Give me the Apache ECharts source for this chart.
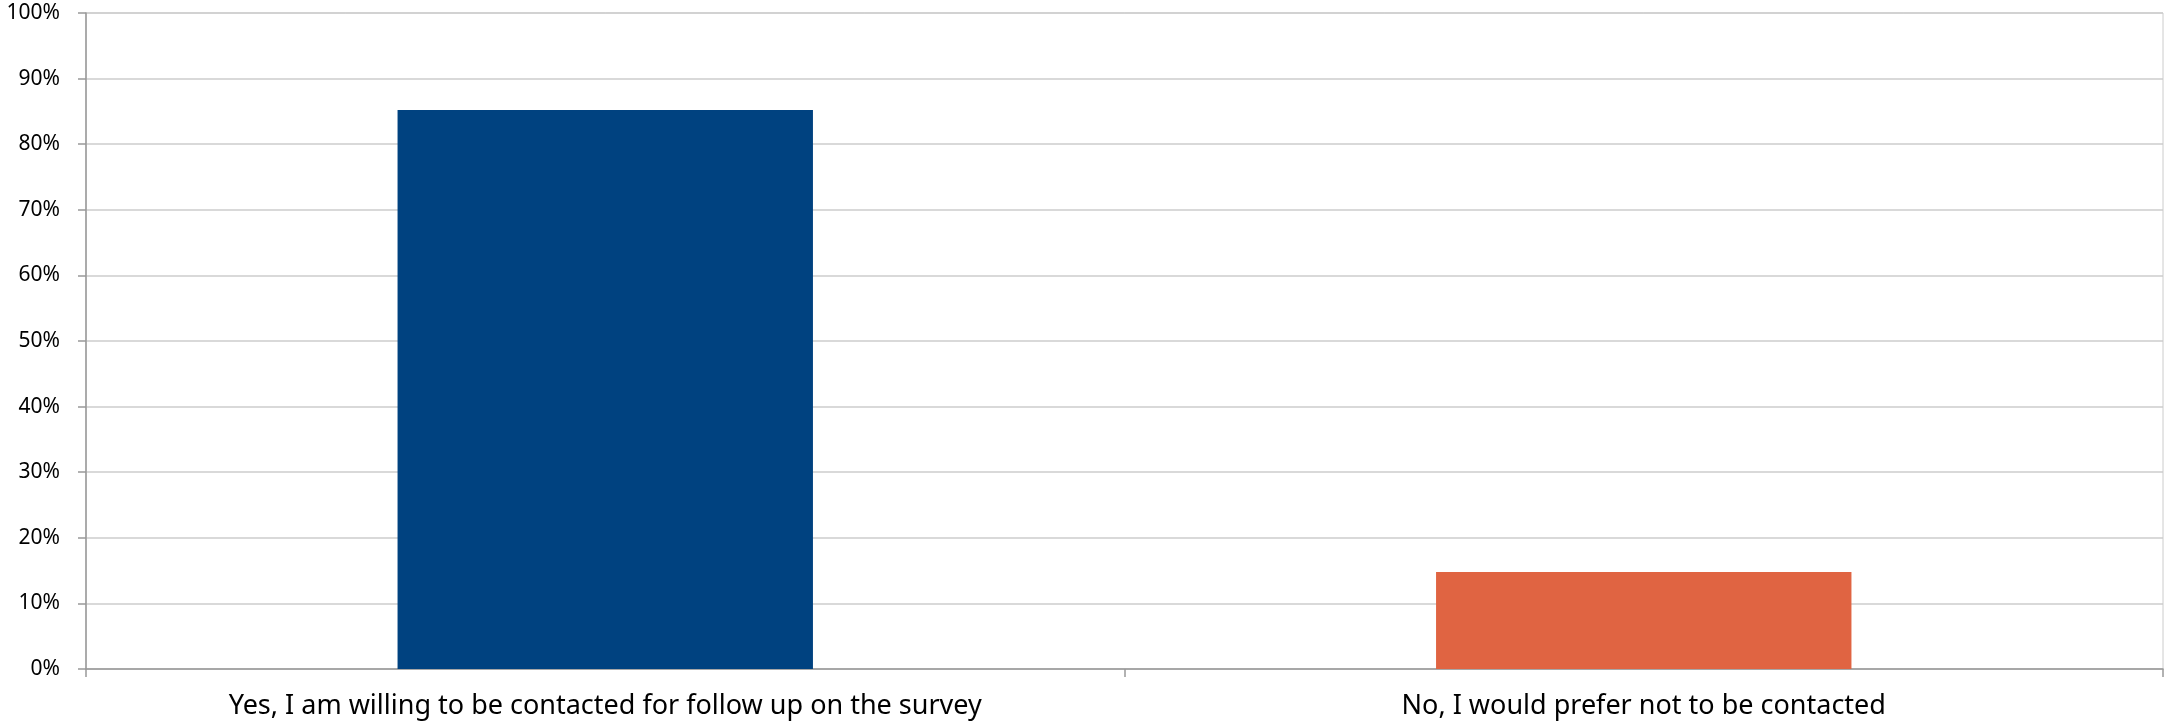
<!DOCTYPE html>
<html>
<head>
<meta charset="utf-8">
<script src="https://cdn.jsdelivr.net/npm/echarts@6/dist/echarts.min.js"></script>
<style>
html,body{margin:0;padding:0;background:#fff;}
#main{width:2165px;height:724px;}
</style>
</head>
<body>
<div id="main"></div>
<script>
var categories = ['Yes, I am willing to be contacted for follow up on the survey', 'No, I would prefer not to be contacted'];
var shares = [85.2, 14.8];
var barColors = ['#004280', '#E06442'];

var myChart = echarts.init(document.getElementById('main'));
var option = {
	animation: false,
	textStyle: { fontFamily: 'Noto Sans' },
	grid: {
		left: 86,
		right: 2,
		top: 13,
		bottom: 55,
		show: true,
		borderColor: '#cccccc',
		borderWidth: 1
	},
	xAxis: {
		type: 'category',
		data: categories,
		boundaryGap: true,
		axisLine: { lineStyle: { color: '#999999', width: 1.5 } },
		axisTick: { show: true, length: 8, lineStyle: { color: '#999999', width: 1.5 } },
		axisLabel: { color: '#000', fontSize: 27, margin: 24, fontFamily: 'Noto Sans' }
	},
	yAxis: {
		type: 'value',
		min: 0,
		max: 100,
		interval: 10,
		axisLine: { show: true, lineStyle: { color: '#999999', width: 1.5 } },
		axisTick: { show: true, length: 8, lineStyle: { color: '#999999', width: 1.5 } },
		splitLine: { lineStyle: { color: '#cccccc', width: 1.5 } },
		axisLabel: { color: '#000', fontSize: 21, margin: 26, formatter: '{value}%', fontFamily: 'Noto Sans' }
	},
	series: [{
		type: 'bar',
		barWidth: '40%',
		data: shares.map(function(v, i){
			return { value: v, itemStyle: { color: barColors[i] } };
		})
	}]
};
myChart.setOption(option);
</script>
</body>
</html>
